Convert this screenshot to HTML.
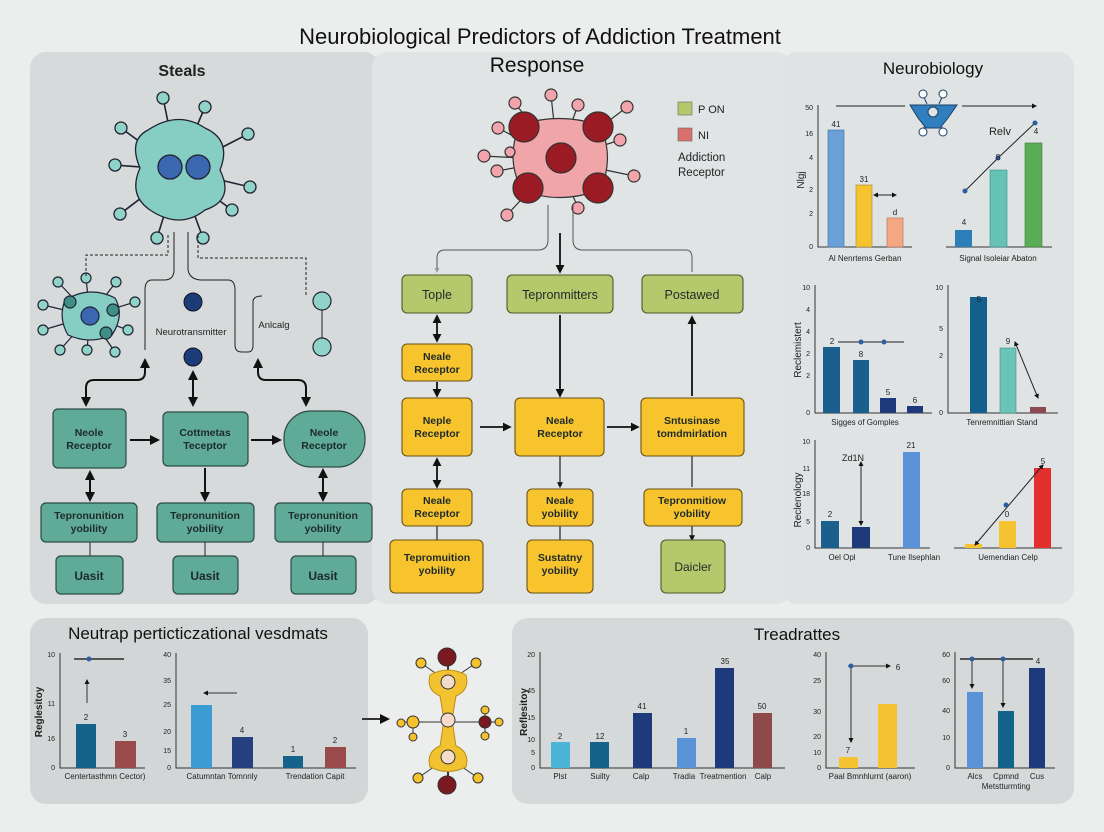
<!DOCTYPE html>
<html><head><meta charset="utf-8"><style>
html,body{margin:0;padding:0;background:#eceeee;}
svg{display:block;font-family:"Liberation Sans",sans-serif;}
.bx{font-size:11.5px;font-weight:bold;fill:#1e2a2a;text-anchor:middle;}
.ax{font-size:7px;fill:#222;}
.xl{font-size:8px;fill:#222;text-anchor:middle;}
</style></head><body>
<svg width="1104" height="832" viewBox="0 0 1104 832" xmlns="http://www.w3.org/2000/svg">
<defs>
<marker id="a" viewBox="0 0 10 10" refX="8" refY="5" markerWidth="5" markerHeight="5" orient="auto-start-reverse"><path d="M0,0L10,5L0,10z" fill="#111"/></marker>
<marker id="g" viewBox="0 0 10 10" refX="8" refY="5" markerWidth="5" markerHeight="5" orient="auto"><path d="M0,0L10,5L0,10z" fill="#999"/></marker>
</defs>
<rect width="1104" height="832" fill="#eceeee"/>
<!-- panels -->
<rect x="30" y="52" width="350" height="552" rx="16" fill="#d6dadb"/>
<rect x="372" y="52" width="420" height="552" rx="16" fill="#e0e4e5"/>
<rect x="782" y="52" width="292" height="552" rx="16" fill="#dfe3e4"/>
<rect x="30" y="618" width="338" height="186" rx="16" fill="#d3d6d7"/>
<rect x="512" y="618" width="562" height="186" rx="16" fill="#d6d9da"/>

<text x="540" y="44" font-size="22" text-anchor="middle" fill="#111">Neurobiological Predictors of Addiction Treatment</text>
<text x="537" y="72" font-size="21" text-anchor="middle" fill="#111">Response</text>
<text x="182" y="76" font-size="16" font-weight="bold" text-anchor="middle" fill="#222">Steals</text>
<text x="933" y="74" font-size="17" text-anchor="middle" fill="#111">Neurobiology</text>

<!-- big neuron -->
<g stroke="#223" stroke-width="1.3">
<g stroke-width="1.6">
<line x1="178" y1="170" x2="163" y2="98"/><line x1="178" y1="170" x2="205" y2="107"/><line x1="178" y1="170" x2="121" y2="128"/><line x1="178" y1="170" x2="248" y2="134"/><line x1="178" y1="170" x2="115" y2="165"/><line x1="178" y1="170" x2="250" y2="187"/><line x1="178" y1="170" x2="120" y2="214"/><line x1="178" y1="170" x2="232" y2="210"/><line x1="178" y1="170" x2="157" y2="238"/><line x1="178" y1="170" x2="203" y2="238"/>
</g>
<path d="M148,130 Q178,110 205,128 Q232,140 220,170 Q235,200 205,210 Q180,230 150,210 Q128,195 140,168 Q128,140 148,130z" fill="#86cdc4"/>
<g fill="#8fd3c9"><circle cx="163" cy="98" r="6"/><circle cx="205" cy="107" r="6"/><circle cx="121" cy="128" r="6"/><circle cx="248" cy="134" r="6"/><circle cx="115" cy="165" r="6"/><circle cx="250" cy="187" r="6"/><circle cx="120" cy="214" r="6"/><circle cx="232" cy="210" r="6"/><circle cx="157" cy="238" r="6"/><circle cx="203" cy="238" r="6"/></g>
<circle cx="170" cy="167" r="12" fill="#3a67b0"/><circle cx="198" cy="167" r="12" fill="#3a67b0"/>
</g>
<!-- small neuron -->
<g stroke="#223" stroke-width="1.2">
<line x1="90" y1="316" x2="58" y2="282"/><line x1="90" y1="316" x2="86" y2="278"/><line x1="90" y1="316" x2="116" y2="282"/><line x1="90" y1="316" x2="135" y2="302"/><line x1="90" y1="316" x2="43" y2="305"/><line x1="90" y1="316" x2="43" y2="330"/><line x1="90" y1="316" x2="60" y2="350"/><line x1="90" y1="316" x2="87" y2="350"/><line x1="90" y1="316" x2="115" y2="352"/><line x1="90" y1="316" x2="128" y2="330"/>
<path d="M65,300 Q90,285 115,298 Q125,315 112,335 Q90,345 68,335 Q58,318 65,300z" fill="#86cdc4"/>
<g fill="#8fd3c9"><circle cx="58" cy="282" r="5"/><circle cx="86" cy="278" r="5"/><circle cx="116" cy="282" r="5"/><circle cx="135" cy="302" r="5"/><circle cx="43" cy="305" r="5"/><circle cx="43" cy="330" r="5"/><circle cx="60" cy="350" r="5"/><circle cx="87" cy="350" r="5"/><circle cx="115" cy="352" r="5"/><circle cx="128" cy="330" r="5"/></g>
<g fill="#3d8f88"><circle cx="70" cy="302" r="6"/><circle cx="113" cy="310" r="6"/><circle cx="106" cy="333" r="6"/></g>
<circle cx="90" cy="316" r="9" fill="#3a67b0"/>
</g>
<!-- connectors left top -->
<g fill="none" stroke="#222" stroke-width="1">
<path d="M168,235 V255 H86 V278" stroke-dasharray="3,2"/>
<path d="M198,235 V258 H306 V296" stroke-dasharray="3,2"/>
<path d="M174,232 V270 Q174,280 164,280 H152 Q145,280 145,290 V350"/>
<path d="M188,232 V270 Q190,280 202,280 H228 Q235,280 235,290 V345 Q235,352 242,352 H248 Q253,352 253,345 V302 Q253,296 262,296"/>
<line x1="322" y1="310" x2="322" y2="340"/>
</g>
<circle cx="193" cy="302" r="9" fill="#1c3c78" stroke="#112" stroke-width="1"/>
<circle cx="193" cy="357" r="9" fill="#1c3c78" stroke="#112" stroke-width="1"/>
<circle cx="322" cy="301" r="9" fill="#8fd3c9" stroke="#223" stroke-width="1.2"/>
<circle cx="322" cy="347" r="9" fill="#8fd3c9" stroke="#223" stroke-width="1.2"/>
<text x="191" y="335" font-size="9.5" text-anchor="middle" fill="#222">Neurotransmitter</text>
<text x="274" y="328" font-size="9.5" text-anchor="middle" fill="#222">Anlcalg</text>
<g fill="none" stroke="#111" stroke-width="2">
<path d="M145,360 V372 Q145,380 137,380 H94 Q86,380 86,388 V405" marker-start="url(#a)" marker-end="url(#a)"/>
<line x1="193" y1="372" x2="193" y2="405" marker-start="url(#a)" marker-end="url(#a)"/>
<path d="M258,360 V372 Q258,380 266,380 H298 Q306,380 306,388 V405" marker-start="url(#a)" marker-end="url(#a)"/>
<line x1="130" y1="440" x2="158" y2="440" marker-end="url(#a)"/>
<line x1="251" y1="440" x2="280" y2="440" marker-end="url(#a)"/>
<line x1="90" y1="472" x2="90" y2="500" marker-start="url(#a)" marker-end="url(#a)"/>
<line x1="205" y1="468" x2="205" y2="500" marker-end="url(#a)"/>
<line x1="323" y1="470" x2="323" y2="500" marker-start="url(#a)" marker-end="url(#a)"/>
</g>
<g stroke="#222" stroke-width="1"><line x1="90" y1="542" x2="90" y2="556"/><line x1="205" y1="542" x2="205" y2="556"/><line x1="323" y1="542" x2="323" y2="556"/></g>
<!-- teal boxes -->
<g fill="#5fab97" stroke="#2c4a44" stroke-width="1.2">
<rect x="53" y="409" width="73" height="59" rx="5"/><rect x="163" y="412" width="85" height="54" rx="5"/><rect x="284" y="411" width="81" height="56" rx="27"/>
<rect x="41" y="503" width="96" height="39" rx="5"/><rect x="157" y="503" width="97" height="39" rx="5"/><rect x="275" y="503" width="97" height="39" rx="5"/>
<rect x="56" y="556" width="67" height="38" rx="5"/><rect x="173" y="556" width="65" height="38" rx="5"/><rect x="291" y="556" width="65" height="38" rx="5"/>
</g>
<g class="bx" style="font-size:10.5px">
<text x="89" y="436">Neole</text><text x="89" y="449">Receptor</text>
<text x="205" y="436">Cottmetas</text><text x="205" y="449">Teceptor</text>
<text x="324" y="436">Neole</text><text x="324" y="449">Receptor</text>
<text x="89" y="519">Tepronunition</text><text x="89" y="532">yobility</text>
<text x="205" y="519">Tepronunition</text><text x="205" y="532">yobility</text>
<text x="323" y="519">Tepronunition</text><text x="323" y="532">yobility</text>
</g>
<g class="bx" style="font-size:12px"><text x="89" y="580">Uasit</text><text x="205" y="580">Uasit</text><text x="323" y="580">Uasit</text></g>

<!-- red molecule -->
<g stroke="#333" stroke-width="1.2">
<g><line x1="558" y1="160" x2="551" y2="95"/><line x1="558" y1="160" x2="515" y2="103"/><line x1="558" y1="160" x2="578" y2="105"/><line x1="558" y1="160" x2="627" y2="107"/><line x1="558" y1="160" x2="484" y2="156"/><line x1="558" y1="160" x2="497" y2="171"/><line x1="558" y1="160" x2="498" y2="128"/><line x1="558" y1="160" x2="620" y2="140"/><line x1="558" y1="160" x2="634" y2="176"/><line x1="558" y1="160" x2="507" y2="215"/><line x1="558" y1="160" x2="578" y2="208"/><line x1="558" y1="160" x2="510" y2="152"/></g>
<path d="M520,125 Q558,112 600,125 Q615,158 600,190 Q558,205 522,190 Q505,158 520,125z" fill="#f0a5a8"/>
<g fill="#f2a4ad"><circle cx="551" cy="95" r="6"/><circle cx="515" cy="103" r="6"/><circle cx="578" cy="105" r="6"/><circle cx="627" cy="107" r="6"/><circle cx="484" cy="156" r="6"/><circle cx="497" cy="171" r="6"/><circle cx="498" cy="128" r="6"/><circle cx="620" cy="140" r="6"/><circle cx="634" cy="176" r="6"/><circle cx="507" cy="215" r="6"/><circle cx="578" cy="208" r="6"/><circle cx="510" cy="152" r="5"/></g>
<g fill="#9b1b24"><circle cx="524" cy="127" r="15"/><circle cx="598" cy="127" r="15"/><circle cx="561" cy="158" r="15"/><circle cx="528" cy="188" r="15"/><circle cx="598" cy="188" r="15"/></g>
</g>
<rect x="678" y="102" width="14" height="13" fill="#b5c96c" stroke="#666" stroke-width="0.6"/>
<text x="698" y="113" font-size="11" fill="#222">P ON</text>
<rect x="678" y="128" width="14" height="13" fill="#d9706d" stroke="#666" stroke-width="0.6"/>
<text x="698" y="139" font-size="11" fill="#222">NI</text>
<text x="678" y="161" font-size="11.5" fill="#222">Addiction</text>
<text x="678" y="176" font-size="11.5" fill="#222">Receptor</text>
<!-- middle connectors -->
<g fill="none" stroke="#555" stroke-width="1">
<path d="M548,205 V240 Q548,250 538,250 H445 Q437,250 437,258 V272" marker-end="url(#g)"/>
<path d="M573,205 V240 Q573,250 583,250 H686 Q692,250 692,258 V272"/>
</g>
<g fill="none" stroke="#111" stroke-width="1.8">
<line x1="560" y1="233" x2="560" y2="272" marker-end="url(#a)"/>
<line x1="560" y1="315" x2="560" y2="396" marker-end="url(#a)"/>
<line x1="692" y1="396" x2="692" y2="317" marker-end="url(#a)"/>
<line x1="437" y1="316" x2="437" y2="341" marker-start="url(#a)" marker-end="url(#a)"/>
<line x1="437" y1="382" x2="437" y2="396" marker-end="url(#a)"/>
<line x1="480" y1="427" x2="510" y2="427" marker-end="url(#a)"/>
<line x1="607" y1="427" x2="638" y2="427" marker-end="url(#a)"/>
<line x1="437" y1="459" x2="437" y2="487" marker-start="url(#a)" marker-end="url(#a)"/>
</g>
<g stroke="#222" stroke-width="1.2" fill="none">
<line x1="560" y1="456" x2="560" y2="487" marker-end="url(#a)"/><line x1="692" y1="456" x2="692" y2="487"/>
<line x1="437" y1="526" x2="437" y2="540"/><line x1="560" y1="526" x2="560" y2="540"/><line x1="692" y1="526" x2="692" y2="540" marker-end="url(#a)"/>
</g>
<g fill="#b5c96c" stroke="#4d5a2c" stroke-width="1.1">
<rect x="402" y="275" width="70" height="38" rx="5"/><rect x="507" y="275" width="106" height="38" rx="5"/><rect x="642" y="275" width="101" height="38" rx="5"/><rect x="661" y="540" width="64" height="53" rx="5"/>
</g>
<g fill="#f8c42e" stroke="#6a5214" stroke-width="1.1">
<rect x="402" y="344" width="70" height="37" rx="5"/>
<rect x="402" y="398" width="70" height="58" rx="5"/><rect x="515" y="398" width="89" height="58" rx="5"/><rect x="641" y="398" width="103" height="58" rx="5"/>
<rect x="402" y="489" width="70" height="37" rx="5"/><rect x="527" y="489" width="66" height="37" rx="5"/><rect x="644" y="489" width="98" height="37" rx="5"/>
<rect x="390" y="540" width="93" height="53" rx="5"/><rect x="527" y="540" width="66" height="53" rx="5"/>
</g>
<g class="bx" style="font-size:12.5px;font-weight:normal">
<text x="437" y="299">Tople</text><text x="560" y="299">Tepronmitters</text><text x="692" y="299">Postawed</text>
</g>
<g class="bx" style="font-size:10.5px">
<text x="437" y="360">Neale</text><text x="437" y="373">Receptor</text>
<text x="437" y="424">Neple</text><text x="437" y="437">Receptor</text>
<text x="560" y="424">Neale</text><text x="560" y="437">Receptor</text>
<text x="692" y="424">Sntusinase</text><text x="692" y="437">tomdmirlation</text>
<text x="437" y="504">Neale</text><text x="437" y="517">Receptor</text>
<text x="560" y="504">Neale</text><text x="560" y="517">yobility</text>
<text x="692" y="504">Tepronmitiow</text><text x="692" y="517">yobility</text>
<text x="437" y="561">Tepromuition</text><text x="437" y="574">yobility</text>
<text x="560" y="561">Sustatny</text><text x="560" y="574">yobility</text>
</g>
<text x="693" y="571" class="bx" style="font-size:12px;font-weight:normal">Daicler</text>

<!-- right panel charts -->
<g stroke="#333" stroke-width="1" fill="none">
<path d="M818,105 V247 H912"/><path d="M946,247 H1052"/>
<path d="M815,285 V413 H932"/><path d="M948,285 V413 H1058"/>
<path d="M815,440 V548 H930"/><path d="M954,548 H1062"/>
</g>
<g class="ax" text-anchor="end">
<text x="813" y="110">50</text><text x="813" y="136">16</text><text x="813" y="160">4</text><text x="813" y="192">2</text><text x="813" y="216">2</text><text x="813" y="249">0</text>
<text x="810" y="290">10</text><text x="810" y="312">4</text><text x="810" y="334">4</text><text x="810" y="356">2</text><text x="810" y="378">2</text><text x="810" y="415">0</text>
<text x="943" y="290">10</text><text x="943" y="331">5</text><text x="943" y="358">2</text><text x="943" y="415">0</text>
<text x="810" y="444">10</text><text x="810" y="471">11</text><text x="810" y="496">18</text><text x="810" y="524">5</text><text x="810" y="550">0</text>
</g>
<g>
<rect x="828" y="130" width="16" height="117" fill="#6a9fd8" stroke="#3b6ea8" stroke-width="0.6"/>
<rect x="856" y="185" width="16" height="62" fill="#f5c332" stroke="#a98520" stroke-width="0.6"/>
<rect x="887" y="218" width="16" height="29" fill="#f4a882" stroke="#b06f50" stroke-width="0.6"/>
<rect x="955" y="230" width="17" height="17" fill="#2a7fb8"/>
<rect x="990" y="170" width="17" height="77" fill="#66c2b5" stroke="#3a8f85" stroke-width="0.6"/>
<rect x="1025" y="143" width="17" height="104" fill="#5aac55" stroke="#3b7a38" stroke-width="0.6"/>
<rect x="823" y="347" width="17" height="66" fill="#1a5f8e"/>
<rect x="853" y="360" width="16" height="53" fill="#1a5f8e"/>
<rect x="880" y="398" width="16" height="15" fill="#1e3a7a"/>
<rect x="907" y="406" width="16" height="7" fill="#1e3a7a"/>
<rect x="970" y="297" width="17" height="116" fill="#135f8e"/>
<rect x="1000" y="348" width="16" height="65" fill="#6cc4b8" stroke="#3a8f85" stroke-width="0.6"/>
<rect x="1030" y="407" width="16" height="6" fill="#8a4a50"/>
<rect x="821" y="521" width="18" height="27" fill="#1a5f8e"/>
<rect x="852" y="527" width="18" height="21" fill="#1e3a7a"/>
<rect x="903" y="452" width="17" height="96" fill="#5b93d8"/>
<rect x="965" y="544" width="17" height="4" fill="#f5c332"/>
<rect x="999" y="521" width="17" height="27" fill="#f5c332"/>
<rect x="1034" y="468" width="17" height="80" fill="#e3302f"/>
</g>
<g stroke="#222" stroke-width="1" fill="none">
<line x1="836" y1="106" x2="905" y2="106"/><line x1="962" y1="106" x2="1036" y2="106" marker-end="url(#a)"/>
<line x1="874" y1="195" x2="896" y2="195" marker-start="url(#a)" marker-end="url(#a)"/>
<polyline points="965,191 998,158 1035,123"/>
<line x1="838" y1="342" x2="904" y2="342"/>
<line x1="1015" y1="342" x2="1038" y2="398" marker-start="url(#a)" marker-end="url(#a)"/>
<line x1="861" y1="462" x2="861" y2="525" marker-start="url(#a)" marker-end="url(#a)"/>
<line x1="975" y1="545" x2="1043" y2="465" marker-start="url(#a)" marker-end="url(#a)"/>
</g>
<g fill="#2d5ea0"><circle cx="965" cy="191" r="2.5"/><circle cx="998" cy="158" r="2.5"/><circle cx="1035" cy="123" r="2.5"/><circle cx="861" cy="342" r="2.5"/><circle cx="884" cy="342" r="2.5"/><circle cx="1006" cy="505" r="2.5"/></g>
<!-- blue icon -->
<g stroke="#1c3e66" stroke-width="1">
<line x1="923" y1="95" x2="927" y2="104"/><line x1="943" y1="95" x2="939" y2="104"/><line x1="923" y1="130" x2="927" y2="121"/><line x1="943" y1="130" x2="939" y2="121"/>
<path d="M910,105 L957,105 L948,118 L940,128 L926,128 L918,118z" fill="#2f7fbf"/>
<circle cx="933" cy="112" r="5" fill="#dfe3e4"/>
<circle cx="923" cy="94" r="4" fill="#fff"/><circle cx="943" cy="94" r="4" fill="#fff"/><circle cx="923" cy="132" r="4" fill="#fff"/><circle cx="943" cy="132" r="4" fill="#fff"/>
</g>
<g font-size="8" fill="#222" text-anchor="middle">
<text x="836" y="127">41</text><text x="864" y="182">31</text><text x="895" y="215">d</text>
<text x="964" y="225">4</text><text x="998" y="160">8</text><text x="1036" y="134">4</text>
<text x="832" y="344">2</text><text x="861" y="357">8</text><text x="888" y="395">5</text><text x="915" y="403">6</text>
<text x="979" y="302">5</text><text x="1008" y="344">9</text>
<text x="830" y="517">2</text><text x="911" y="448">21</text><text x="1007" y="517">0</text><text x="1043" y="464">5</text>
<text x="853" y="461" font-size="9">Zd1N</text>
<text x="1000" y="135" font-size="11">Relv</text>
</g>
<g class="xl">
<text x="865" y="261">Al Nenrtems Gerban</text><text x="998" y="261">Signal Isoleiar Abaton</text>
<text x="865" y="425">Sigges of Gomples</text><text x="1002" y="425">Tenremnittian Stand</text>
<text x="842" y="560">Oel Opl</text><text x="914" y="560">Tune Ilsephlan</text><text x="1008" y="560">Uemendian Celp</text>
</g>
<g font-size="10" fill="#222" text-anchor="middle">
<text transform="translate(804,180) rotate(-90)">Nlgj</text>
<text transform="translate(801,350) rotate(-90)">Reclemistert</text>
<text transform="translate(801,500) rotate(-90)">Reclenology</text>
</g>

<!-- bottom left -->
<text x="198" y="639" font-size="17" text-anchor="middle" fill="#111">Neutrap perticticzational vesdmats</text>
<g stroke="#333" stroke-width="1" fill="none"><path d="M60,653 V768 H145"/><path d="M176,653 V768 H356"/></g>
<rect x="76" y="724" width="20" height="44" fill="#15628a"/>
<rect x="115" y="741" width="21" height="27" fill="#9a4a4a"/>
<rect x="191" y="705" width="21" height="63" fill="#3b9bd3"/>
<rect x="232" y="737" width="21" height="31" fill="#26407f"/>
<rect x="283" y="756" width="20" height="12" fill="#15628a"/>
<rect x="325" y="747" width="21" height="21" fill="#9a4a4a"/>
<g stroke="#333" stroke-width="1" fill="none">
<line x1="74" y1="659" x2="124" y2="659" stroke="#555" stroke-width="2"/>
<line x1="87" y1="703" x2="87" y2="680" marker-end="url(#a)"/>
<line x1="237" y1="693" x2="204" y2="693" marker-end="url(#a)"/>
<line x1="362" y1="719" x2="388" y2="719" stroke-width="2" marker-end="url(#a)"/>
</g>
<circle cx="89" cy="659" r="2.5" fill="#2d5ea0"/>
<g class="ax" text-anchor="end"><text x="55" y="657">10</text><text x="55" y="706">11</text><text x="55" y="741">16</text><text x="55" y="770">0</text>
<text x="171" y="657">40</text><text x="171" y="683">35</text><text x="171" y="707">25</text><text x="171" y="734">20</text><text x="171" y="753">15</text><text x="171" y="770">0</text></g>
<g font-size="8" fill="#222" text-anchor="middle"><text x="86" y="720">2</text><text x="125" y="737">3</text><text x="242" y="733">4</text><text x="293" y="752">1</text><text x="335" y="743">2</text></g>
<g class="xl"><text x="105" y="779">Centertasthmn Cector)</text><text x="222" y="779">Catumntan Tomnnly</text><text x="315" y="779">Trendation Capit</text></g>
<text transform="translate(42,712) rotate(-90)" font-size="10" font-weight="bold" text-anchor="middle" fill="#222">Reglesitoy</text>
<!-- yellow molecule -->
<g stroke="#333" stroke-width="1">
<line x1="448" y1="657" x2="448" y2="785" stroke-width="2"/>
<line x1="401" y1="722" x2="499" y2="722"/>
<line x1="448" y1="682" x2="421" y2="663"/><line x1="448" y1="682" x2="476" y2="663"/><line x1="448" y1="757" x2="418" y2="778"/><line x1="448" y1="757" x2="478" y2="778"/>
<line x1="485" y1="722" x2="485" y2="710"/><line x1="485" y1="722" x2="485" y2="736"/><line x1="413" y1="722" x2="413" y2="737"/>
<path d="M430,675 Q448,665 466,675 Q470,690 456,696 L452,720 L456,746 Q470,752 466,767 Q448,776 430,767 Q426,752 440,746 L444,720 L440,696 Q426,690 430,675z" fill="#f2c230" stroke="#b8901c"/>
<g fill="#f5c22e"><circle cx="421" cy="663" r="5"/><circle cx="476" cy="663" r="5"/><circle cx="418" cy="778" r="5"/><circle cx="478" cy="778" r="5"/><circle cx="413" cy="722" r="6"/><circle cx="401" cy="723" r="4"/><circle cx="413" cy="737" r="4"/><circle cx="485" cy="710" r="4"/><circle cx="499" cy="722" r="4"/><circle cx="485" cy="736" r="4"/></g>
<g fill="#7a1a20"><circle cx="447" cy="657" r="9"/><circle cx="447" cy="785" r="9"/><circle cx="485" cy="722" r="6"/></g>
<g fill="#f4dccd"><circle cx="448" cy="682" r="7"/><circle cx="448" cy="720" r="7"/><circle cx="448" cy="757" r="7"/></g>
</g>

<!-- bottom right -->
<text x="797" y="640" font-size="17" text-anchor="middle" fill="#111">Treadrattes</text>
<g stroke="#333" stroke-width="1" fill="none"><path d="M540,652 V768 H785"/><path d="M826,652 V768 H915"/><path d="M955,652 V768 H1055"/></g>
<rect x="551" y="742" width="19" height="26" fill="#4ab5d6"/>
<rect x="590" y="742" width="19" height="26" fill="#15628a"/>
<rect x="633" y="713" width="19" height="55" fill="#1e3a7a"/>
<rect x="677" y="738" width="19" height="30" fill="#5b93d8"/>
<rect x="715" y="668" width="19" height="100" fill="#1e3a7a"/>
<rect x="753" y="713" width="19" height="55" fill="#8e4a4a"/>
<rect x="839" y="757" width="19" height="11" fill="#f5c332"/>
<rect x="878" y="704" width="19" height="64" fill="#f5c332"/>
<rect x="967" y="692" width="16" height="76" fill="#5b93d8"/>
<rect x="998" y="711" width="16" height="57" fill="#15628a"/>
<rect x="1029" y="668" width="16" height="100" fill="#1e3a7a"/>
<g stroke="#333" stroke-width="1" fill="none">
<line x1="848" y1="666" x2="890" y2="666" marker-end="url(#a)"/>
<line x1="851" y1="666" x2="851" y2="742" marker-end="url(#a)"/>
<line x1="960" y1="659" x2="1033" y2="659" stroke="#555" stroke-width="2"/>
<line x1="972" y1="660" x2="972" y2="688" marker-end="url(#a)"/>
<line x1="1003" y1="660" x2="1003" y2="707" marker-end="url(#a)"/>
</g>
<g fill="#2d5ea0"><circle cx="851" cy="666" r="2.5"/><circle cx="972" cy="659" r="2.5"/><circle cx="1003" cy="659" r="2.5"/></g>
<g class="ax" text-anchor="end"><text x="535" y="657">20</text><text x="535" y="693">45</text><text x="535" y="720">15</text><text x="535" y="742">10</text><text x="535" y="755">5</text><text x="535" y="770">0</text>
<text x="821" y="657">40</text><text x="821" y="683">25</text><text x="821" y="714">30</text><text x="821" y="739">20</text><text x="821" y="755">10</text><text x="821" y="770">0</text>
<text x="950" y="657">60</text><text x="950" y="683">60</text><text x="950" y="713">40</text><text x="950" y="740">10</text><text x="950" y="770">0</text></g>
<g font-size="8" fill="#222" text-anchor="middle"><text x="560" y="739">2</text><text x="600" y="739">12</text><text x="642" y="709">41</text><text x="686" y="734">1</text><text x="725" y="664">35</text><text x="762" y="709">50</text><text x="848" y="753">7</text><text x="898" y="670">6</text><text x="1038" y="664">4</text></g>
<g class="xl"><text x="560" y="779">Plst</text><text x="600" y="779">Suilty</text><text x="641" y="779">Calp</text><text x="684" y="779">Tradia</text><text x="723" y="779">Treatmention</text><text x="763" y="779">Calp</text>
<text x="870" y="779">Paal Bmnhlurnt (aaron)</text>
<text x="975" y="779">Alcs</text><text x="1006" y="779">Cpmnd</text><text x="1037" y="779">Cus</text><text x="1006" y="789">Metstturmting</text></g>
<text transform="translate(527,712) rotate(-90)" font-size="10" font-weight="bold" text-anchor="middle" fill="#222">Reflesitoy</text>
</svg>
</body></html>
